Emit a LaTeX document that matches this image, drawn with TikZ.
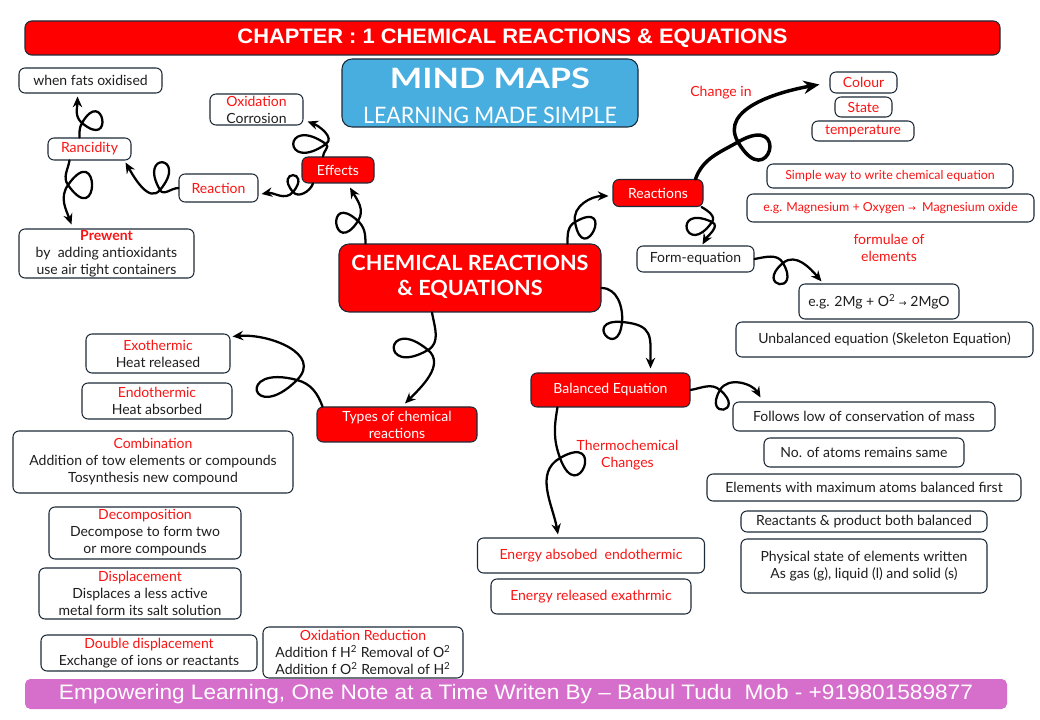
\documentclass[tikz,border=0pt]{standalone}
\usepackage{fontspec}
\setmainfont{Lato}
\newfontfamily\headfont{Liberation Sans}
\newfontfamily\symfont{DejaVu Sans}
\usetikzlibrary{arrows.meta}
\definecolor{tred}{RGB}{250,20,20}
\definecolor{boxred}{RGB}{255,0,0}
\definecolor{boxline}{RGB}{28,42,56}
\definecolor{txt}{RGB}{30,30,30}
\definecolor{skyb}{RGB}{72,174,224}
\definecolor{footfill}{RGB}{214,110,204}
\newcommand\fitw[2]{\resizebox{#1}{\height}{#2}}
\newcommand\arr{{\symfont\fontsize{7}{8}\selectfont →}}
\tikzset{
  box/.style={draw=boxline, line width=0.8pt, rounded corners=4.5pt, fill=white,
    align=center, inner sep=0pt, text=txt, font=\fontsize{10.5}{12.75}\selectfont},
  rbox/.style={box, fill=boxred, text=white},
  sz/.style 2 args={minimum width=#1*0.75pt, minimum height=#2*0.75pt},
  lbl/.style={text=tred, align=center, inner sep=0pt, font=\fontsize{10.5}{12.75}\selectfont},
  curly/.style={line width=1.7pt, line cap=round, -{Stealth[length=8pt,width=7pt]}},
}
\begin{document}
\begin{tikzpicture}[x=0.75pt,y=0.75pt]
\fill[white] (0,0) rectangle (1040,-720);
\useasboundingbox (0,0) rectangle (1040,-720);

% header / title boxes
\node[rbox, sz={975}{34}, rounded corners=5pt] (header) at (512.5,-38)
  {\fitw{412.5pt}{\headfont\bfseries\fontsize{15.7}{18}\selectfont CHAPTER : 1 CHEMICAL REACTIONS \& EQUATIONS}};
\node[box, fill=skyb, text=white, sz={296}{68}, rounded corners=7.5pt] (mind) at (490,-93)
  {\raisebox{-4pt}[\height][\depth]{\begin{tabular}{@{}c@{}}\fitw{150pt}{\bfseries\fontsize{21}{21}\selectfont MIND MAPS}\\[10pt]
   \fitw{190.5pt}{\fontsize{17}{17}\selectfont LEARNING MADE SIMPLE}\end{tabular}}};
\node[box, fill=footfill, draw=none, text=white, sz={982}{30}, rounded corners=4pt] (footer) at (516,-694)
  {\fitw{685.5pt}{\headfont\fontsize{15.7}{18}\selectfont Empowering Learning, One Note at a Time Writen By – Babul Tudu\ \ Mob - +919801589877}};

% centre
\node[rbox, sz={262}{68}, rounded corners=7.5pt] (center) at (470,-278)
  {\fitw{177.75pt}{\bfseries\fontsize{15.7}{18.75}\selectfont\begin{tabular}{@{}c@{}}CHEMICAL REACTIONS\\ \& EQUATIONS\end{tabular}}};

% top-left branch
\node[rbox, sz={72}{26}] (effects) at (338,-170) {Effects};
\node[box, sz={93}{31}] (oxid) at (256.5,-109.5) {\textcolor{tred}{Oxidation}\\Corrosion};
\node[box, sz={79}{28}, text=tred] (reaction) at (218.5,-188) {Reaction};
\node[box, sz={83}{22}, text=tred] (rancid) at (89.5,-149) {Rancidity};
\node[box, sz={143}{25}] (fats) at (90.5,-80.5) {when fats oxidised};
\node[box, sz={175}{49}] (prewent) at (106.5,-253.5)
  {\textcolor{tred}{\bfseries Prewent}\\by\ \ adding antioxidants\\use air tight containers};

% top-right branch
\node[rbox, sz={90}{27}] (reactions) at (658,-193) {Reactions};
\node[lbl] (changein) at (721,-93) {Change in};
\node[box, sz={67}{21}, text=tred] (colour) at (863.5,-82.5) {Colour};
\node[box, sz={57}{20}, text=tred] (state) at (863.5,-107) {State};
\node[box, sz={102}{20}, text=tred] (temp) at (863,-131) {temperature};
\node[box, sz={246}{24}, text=tred, font=\fontsize{9.3}{11}\selectfont] (simple) at (890,-176) {Simple way to write chemical equation};
\node[box, sz={287}{28}, text=tred, font=\fontsize{9.3}{11}\selectfont] (egmag) at (890.5,-208) {e.g. Magnesium + Oxygen \arr\ \ Magnesium oxide};
\node[lbl] (formulae) at (889,-248) {formulae of\\elements};
\node[box, sz={117}{26}] (formeq) at (695.5,-259) {Form-equation};
\node[box, sz={160}{35}] (eg2mg) at (879,-301.5) {e.g. 2Mg + O\textsuperscript{2} \arr\ 2MgO};
\node[box, sz={297}{35}] (unbal) at (884.5,-339.5) {Unbalanced equation (Skeleton Equation)};

% balanced branch
\node[rbox, sz={159}{34}] (balanced) at (610.5,-390) {Balanced Equation};
\node[box, sz={262}{29}] (follows) at (864,-416.5) {Follows low of conservation of mass};
\node[box, sz={200}{29}] (noatoms) at (864,-452.5) {No. of atoms remains same};
\node[box, sz={314}{27}] (elements) at (864,-487.5) {Elements with maximum atoms balanced first};
\node[box, sz={246}{21}] (reactants) at (864,-521.5) {Reactants \& product both balanced};
\node[box, sz={246}{54}] (physical) at (864,-566) {Physical state of elements written\\As gas (g), liquid (l) and solid (s)};
\node[lbl] (thermo) at (627.5,-455) {Thermochemical\\Changes};
\node[box, sz={227}{35}, text=tred] (energyabs) at (591,-555.5) {Energy absobed\ \ endothermic};
\node[box, sz={200}{35}, text=tred] (energyrel) at (591,-596.5) {Energy released exathrmic};

% types branch
\node[rbox, sz={160}{35}] (types) at (397,-424.5) {Types of chemical\\reactions};
\node[box, sz={144}{39}] (exo) at (158,-353.5) {\textcolor{tred}{Exothermic}\\Heat released};
\node[box, sz={150}{36}] (endo) at (157,-401) {\textcolor{tred}{Endothermic}\\Heat absorbed};
\node[box, sz={280}{62}] (comb) at (153,-462) {\textcolor{tred}{Combination}\\Addition of tow elements or compounds\\Tosynthesis new compound};
\node[box, sz={192}{52}] (decomp) at (145,-533) {\textcolor{tred}{Decomposition}\\Decompose to form two\\or more compounds};
\node[box, sz={202}{51}] (displ) at (140,-593.5) {\textcolor{tred}{Displacement}\\Displaces a less active\\metal form its salt solution};
\node[box, sz={216}{36}] (double) at (149,-653) {\textcolor{tred}{Double displacement}\\Exchange of ions or reactants};
\node[box, sz={200}{51}] (oxred) at (363,-652.5) {\textcolor{tred}{Oxidation Reduction}\\Addition f H\textsuperscript{2} Removal of O\textsuperscript{2}\\Addition f O\textsuperscript{2} Removal of H\textsuperscript{2}};

% loop points
\coordinate (x1) at (358,-221);
\coordinate (x2) at (326,-144);
\coordinate (x3) at (293,-192);
\coordinate (x4) at (160,-190);
\coordinate (x5) at (82,-123);
\coordinate (x6) at (68,-185);
\coordinate (x7) at (575,-222);
\coordinate (x8) at (738,-142);
\coordinate (x9) at (712,-222);
\coordinate (x10) at (783,-263);
\coordinate (x11) at (622,-322);
\coordinate (x12) at (720,-390);
\coordinate (x13) at (560,-458);
\coordinate (x14) at (428,-350);
\coordinate (x15) at (297,-380);

% connectors
\draw[curly] ([shift={(27,0)}]center.north west) to[out=90,in=-43] (x1)
  to[out=137,in=237,min distance=34pt] (x1) to[out=57,in=-60] ([shift={(12,-4)}]effects.south);
\draw[curly] ([shift={(-15,0)}]effects.north) to[out=90,in=-35] (x2)
  to[out=145,in=215,min distance=40pt] (x2) to[out=35,in=-20] ([shift={(4,4)}]oxid.south east);
\draw[curly] ([shift={(-25,0)}]effects.south) to[out=-110,in=-50] (x3)
  to[out=130,in=50,min distance=22pt] (x3) to[out=230,in=10] ([shift={(3,-6)}]reaction.east);
\draw[curly] (reaction.west) to[out=180,in=-60] (x4)
  to[out=120,in=50,min distance=34pt] (x4) to[out=230,in=-60] ([shift={(-6,-2)}]rancid.south east);
\draw[curly] ([shift={(-10,0)}]rancid.north) to[out=90,in=240] (x5)
  to[out=60,in=-40,min distance=32pt] (x5) to[out=140,in=-90] ([shift={(-13,-3)}]fats.south);
\draw[curly] ([shift={(-20,0)}]rancid.south) to[out=-100,in=125] (x6)
  to[out=-55,in=55,min distance=42pt] (x6) to[out=235,in=110] ([shift={(-35,4)}]prewent.north);
\draw[curly] ([shift={(-34,0)}]center.north east) to[out=90,in=210] (x7)
  to[out=30,in=-80,min distance=36pt] (x7) to[out=100,in=180] ([shift={(-4,-3)}]reactions.west);
\draw[curly, line width=2.6pt, -{Stealth[length=12pt,width=10pt]}] ([shift={(-8,0)}]reactions.north east) to[out=70,in=210] (x8)
  to[out=30,in=-60,min distance=46pt] (x8) to[out=120,in=190] ([shift={(-10,-2)}]colour.west);
\draw[curly] ([shift={(-2,0)}]reactions.south east) to[out=-30,in=55] (x9)
  to[out=235,in=155,min distance=34pt] (x9) to[out=-25,in=60] ([shift={(7,1)}]formeq.north);
\draw[curly] (formeq.east) to[out=10,in=120] (x10)
  to[out=-60,in=-140,min distance=28pt] (x10) to[out=40,in=130] ([shift={(23,2)}]eg2mg.north west);
\draw[curly] ([shift={(0,-10)}]center.east) to[out=0,in=85] (x11)
  to[out=-95,in=175,min distance=30pt] (x11) to[out=-5,in=90,looseness=1.5] ([shift={(40,4)}]balanced.north);
\draw[curly] (balanced.east) to[out=10,in=140] (x12)
  to[out=-40,in=-120,min distance=26pt] (x12) to[out=60,in=120] ([shift={(28,4)}]follows.north west);
\draw[curly] ([shift={(27,0)}]balanced.south west) to[out=-100,in=110] (x13)
  to[out=-70,in=30,min distance=40pt] (x13) to[out=210,in=100] ([shift={(-33,3)}]energyabs.north);
\draw[curly] ([shift={(-38,0)}]center.south) to[out=-80,in=30] (x14)
  to[out=210,in=140,min distance=42pt] (x14) to[out=-40,in=45] ([shift={(8,3)}]types.north);
\draw[curly] ([shift={(6,0)}]types.north west) to[out=110,in=-15] (x15)
  to[out=165,in=225,min distance=48pt] (x15) to[out=45,in=5,looseness=1.2] ([shift={(2,-3)}]exo.north east);
\end{tikzpicture}
\end{document}
